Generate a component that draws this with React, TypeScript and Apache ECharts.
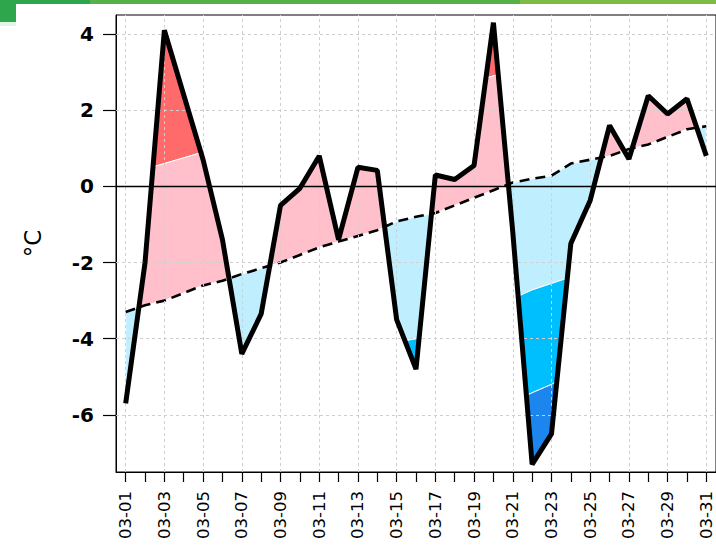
import React, { useEffect, useRef } from 'react';
import * as echarts from 'echarts';

const days = [
  '03-01', '03-02', '03-03', '03-04', '03-05', '03-06', '03-07', '03-08', '03-09', '03-10',
  '03-11', '03-12', '03-13', '03-14', '03-15', '03-16', '03-17', '03-18', '03-19', '03-20',
  '03-21', '03-22', '03-23', '03-24', '03-25', '03-26', '03-27', '03-28', '03-29', '03-30', '03-31',
];

// daily temperature anomaly (solid black line)
const temperature = [
  -5.7, -2.0, 4.1, 2.4, 0.7, -1.4, -4.4, -3.35, -0.5, -0.05,
  0.8, -1.4, 0.5, 0.42, -3.5, -4.8, 0.3, 0.18, 0.55, 4.3,
  -1.2, -7.3, -6.5, -1.5, -0.37, 1.6, 0.72, 2.38, 1.9, 2.3, 0.8,
];

// climatological mean (dashed line)
const climMean = [
  -3.3, -3.12, -3.0, -2.8, -2.6, -2.48, -2.3, -2.15, -2.0, -1.8,
  -1.6, -1.45, -1.3, -1.15, -0.92, -0.8, -0.7, -0.5, -0.3, -0.1,
  0.1, 0.2, 0.28, 0.6, 0.7, 0.8, 0.98, 1.1, 1.3, 1.5, 1.58,
];

// upper threshold (red above it)
const upperBand = [
  0.3, 0.45, 0.6, 0.75, 0.9, 1.0, 1.2, 1.35, 1.5, 1.65,
  1.8, 1.9, 2.0, 2.1, 2.3, 2.4, 2.5, 2.6, 2.75, 2.9,
  3.05, 3.15, 3.25, 3.45, 3.55, 3.65, 3.8, 3.9, 4.05, 4.2, 4.3,
];

// first lower threshold (deep sky blue below it)
const lowerBand1 = [
  -6.6, -6.3, -6.1, -5.9, -5.7, -5.5, -5.2, -5.0, -4.8, -4.6,
  -4.5, -4.4, -4.3, -4.2, -4.1, -4.0, -3.9, -3.7, -3.4, -3.2,
  -2.95, -2.72, -2.55, -2.38, -2.25, -2.1, -2.0, -1.85, -1.7, -1.5, -1.4,
];

// second lower threshold (dodger blue below it)
const lowerBand2 = [
  -9.5, -9.2, -9.0, -8.8, -8.6, -8.4, -8.1, -7.9, -7.7, -7.5,
  -7.3, -7.2, -7.3, -7.2, -7.2, -7.2, -7.0, -6.7, -6.3, -6.0,
  -5.65, -5.42, -5.2, -4.9, -4.8, -4.6, -4.5, -4.3, -4.1, -3.9, -3.8,
];

const yTicks = [-6, -4, -2, 0, 2, 4];

const COLORS = {
  red: '#FF6A6A',
  pink: '#FFC0CB',
  light: '#BFEFFF',
  deep: '#00BFFF',
  dodger: '#1C86EE',
};

type Sample = { x: number; t: number; m: number; u: number; l1: number; l2: number };

function lerp(a: number, b: number, f: number) {
  return a + (b - a) * f;
}

function buildSamples(): Sample[] {
  const n = temperature.length;
  const out: Sample[] = [];
  const curves = [climMean, upperBand, lowerBand1, lowerBand2];
  const at = (i: number, f: number): Sample => {
    const j = Math.min(i + 1, n - 1);
    return {
      x: i + f,
      t: lerp(temperature[i], temperature[j], f),
      m: lerp(climMean[i], climMean[j], f),
      u: lerp(upperBand[i], upperBand[j], f),
      l1: lerp(lowerBand1[i], lowerBand1[j], f),
      l2: lerp(lowerBand2[i], lowerBand2[j], f),
    };
  };
  for (let i = 0; i < n - 1; i++) {
    const fs: number[] = [0];
    for (const c of curves) {
      const d0 = temperature[i] - c[i];
      const d1 = temperature[i + 1] - c[i + 1];
      if (d0 * d1 < 0) fs.push(d0 / (d0 - d1));
    }
    fs.sort((a, b) => a - b);
    for (const f of fs) out.push(at(i, f));
  }
  out.push(at(n - 1, 0));
  return out;
}

const bandDefs: { color: string; fn: (s: Sample) => [number, number] }[] = [
  { color: COLORS.red, fn: (s) => [s.u, Math.max(s.t, s.u)] },
  { color: COLORS.pink, fn: (s) => [s.m, Math.min(Math.max(s.t, s.m), s.u)] },
  { color: COLORS.light, fn: (s) => [Math.max(Math.min(s.t, s.m), s.l1), s.m] },
  { color: COLORS.deep, fn: (s) => [Math.max(Math.min(s.t, s.l1), s.l2), s.l1] },
  { color: COLORS.dodger, fn: (s) => [Math.min(s.t, s.l2), s.l2] },
];

export default function App() {
  const ref = useRef<HTMLDivElement>(null);

  useEffect(() => {
    if (!ref.current) return;
    const chart = echarts.init(ref.current, undefined, { renderer: 'svg' });
    const samples = buildSamples();

    const renderItem = (params: any, api: any) => {
      if (params.dataIndex !== 0) return null;
      const x0 = api.coord([0, 0])[0];
      const dx = api.coord([1, 0])[0] - x0;
      const px = (x: number, v: number) => [x0 + x * dx, api.coord([0, v])[1]];
      const children: any[] = [];
      for (const band of bandDefs) {
        const runs: { x: number; lo: number; hi: number }[][] = [];
        let run: { x: number; lo: number; hi: number }[] = [];
        let prev: { x: number; lo: number; hi: number } | null = null;
        for (const s of samples) {
          const [lo, hi] = band.fn(s);
          const pt = { x: s.x, lo, hi };
          if (hi - lo > 1e-9) {
            if (run.length === 0 && prev) run.push(prev);
            run.push(pt);
          } else if (run.length) {
            run.push(pt);
            runs.push(run);
            run = [];
          }
          prev = pt;
        }
        if (run.length) runs.push(run);
        for (const r of runs) {
          const pts: number[][] = [];
          for (const p of r) pts.push(px(p.x, p.hi));
          for (let k = r.length - 1; k >= 0; k--) pts.push(px(r[k].x, r[k].lo));
          children.push({
            type: 'polygon',
            shape: { points: pts },
            style: { fill: band.color, stroke: '#ffffff', lineWidth: 1 },
          });
        }
      }
      return { type: 'group', children };
    };

    const gridMarks = [
      ...days.filter((_, i) => i % 2 === 0).map((d) => ({ xAxis: d })),
      ...yTicks.filter((v) => v !== 0).map((v) => ({ yAxis: v })),
    ];

    chart.setOption({
      animation: false,
      backgroundColor: '#ffffff',
      textStyle: { fontFamily: 'DejaVu Sans' },
      grid: {
        left: 116,
        top: 15,
        right: -3,
        bottom: 76,
        show: true,
        borderColor: '#000000',
        borderWidth: 1,
        backgroundColor: 'transparent',
      },
      xAxis: {
        type: 'category',
        data: days,
        boundaryGap: true,
        axisLine: { show: true, onZero: false, lineStyle: { color: '#000', width: 1 } },
        axisTick: { show: true, alignWithLabel: true, interval: 0, length: 10, lineStyle: { color: '#000', width: 1.2 } },
        axisLabel: {
          interval: 1,
          rotate: 90,
          fontSize: 16.5,
          fontFamily: 'DejaVu Sans',
          color: '#000',
          margin: 19,
        },
        splitLine: { show: false },
      },
      yAxis: {
        type: 'value',
        min: -7.5,
        max: 4.5,
        name: '°C',
        nameLocation: 'middle',
        nameRotate: 90,
        nameGap: 72,
        nameTextStyle: { fontSize: 23, fontFamily: 'DejaVu Sans', color: '#000' },
        axisLine: { show: true, lineStyle: { color: '#000', width: 1 } },
        axisTick: { show: true, customValues: yTicks, length: 13, lineStyle: { color: '#000', width: 1.2 } },
        axisLabel: {
          customValues: yTicks,
          fontSize: 20,
          fontWeight: 'bold',
          fontFamily: 'DejaVu Sans',
          color: '#000',
          margin: 22,
        },
        splitLine: { show: false },
      },
      graphic: [
        { type: 'rect', shape: { x: 0, y: 0, width: 90, height: 4 }, style: { fill: '#2ea64b' }, z: 100 },
        { type: 'rect', shape: { x: 90, y: 0, width: 430, height: 4 }, style: { fill: '#56b149' }, z: 100 },
        { type: 'rect', shape: { x: 520, y: 0, width: 196, height: 4 }, style: { fill: '#7dbb44' }, z: 100 },
        { type: 'rect', shape: { x: 0, y: 0, width: 16, height: 22 }, style: { fill: '#2ea64b' }, z: 100 },
        { type: 'rect', shape: { x: 0, y: 22, width: 16, height: 4 }, style: { fill: '#e3f5e6' }, z: 100 },
      ],
      series: [
        {
          type: 'custom',
          name: 'bands',
          coordinateSystem: 'cartesian2d',
          data: [[0, 0]],
          encode: { x: 0, y: 1 },
          renderItem,
          silent: true,
          z: 2,
        },
        {
          type: 'line',
          name: 'grid',
          data: temperature,
          symbol: 'none',
          lineStyle: { opacity: 0, width: 0 },
          silent: true,
          z: 3,
          markLine: {
            silent: true,
            symbol: ['none', 'none'],
            label: { show: false },
            lineStyle: { color: '#cfcfcf', type: [3, 3], width: 1 },
            data: gridMarks,
          },
        },
        {
          type: 'line',
          name: 'mean',
          data: climMean,
          symbol: 'none',
          lineStyle: { color: '#000', width: 2.6, type: [10, 6] },
          silent: true,
          z: 4,
          markLine: {
            silent: true,
            symbol: ['none', 'none'],
            label: { show: false },
            lineStyle: { color: '#000', type: 'solid', width: 1.3 },
            data: [{ yAxis: 0 }],
          },
        },
        {
          type: 'line',
          name: 'temperature',
          data: temperature,
          symbol: 'none',
          lineStyle: { color: '#000', width: 5 },
          silent: true,
          z: 5,
        },
      ],
    });
    return () => chart.dispose();
  }, []);

  return (
    <div
      ref={ref}
      style={{ position: 'absolute', left: 0, top: 0, width: 716, height: 548 }}
    />
  );
}
